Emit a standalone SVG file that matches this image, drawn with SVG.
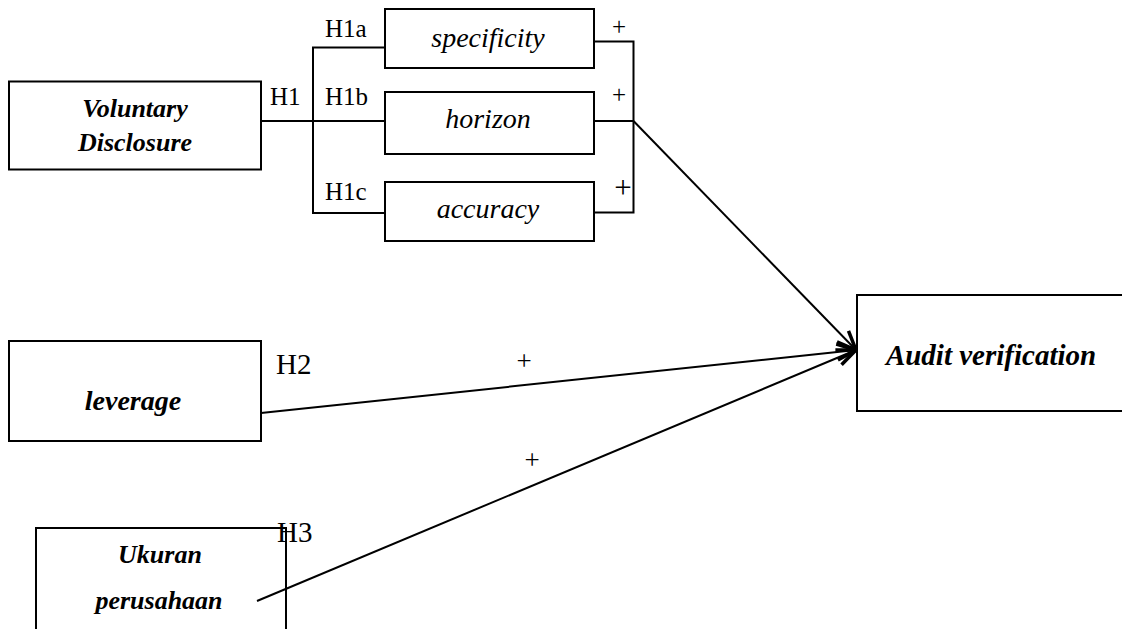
<svg xmlns="http://www.w3.org/2000/svg" width="1122" height="629" viewBox="0 0 1122 629">
<style>
.box{fill:none;stroke:#000;stroke-width:2}
.ln{fill:none;stroke:#000;stroke-width:2}
.t{font-family:"Liberation Serif","Times New Roman",serif;fill:#000}
.bi{font-family:"Liberation Serif","Times New Roman",serif;font-weight:bold;font-style:italic;text-anchor:middle;fill:#000}
.it{font-family:"Liberation Serif","Times New Roman",serif;font-style:italic;text-anchor:middle;fill:#000;font-size:28px}
</style>
<defs>
<marker id="arr" viewBox="0 0 22 20" refX="21" refY="10" markerWidth="22" markerHeight="20" markerUnits="userSpaceOnUse" orient="auto">
<path d="M2,2 L21,10 L2,18" fill="none" stroke="#000" stroke-width="3.5"/>
</marker>
</defs>
<rect width="1122" height="629" fill="#fff"/>
<g id="voluntary">
<rect class="box" x="9" y="81.5" width="252" height="88"/>
<text class="bi" x="135" y="117" font-size="26">Voluntary</text>
<text class="bi" x="135" y="151" font-size="26">Disclosure</text>
</g>
<g id="specificity">
<rect class="box" x="385" y="9" width="209" height="59"/>
<text class="it" x="488" y="47">specificity</text>
</g>
<g id="horizon">
<rect class="box" x="385" y="92" width="209" height="62"/>
<text class="it" x="488" y="128">horizon</text>
</g>
<g id="accuracy">
<rect class="box" x="385" y="182" width="209" height="59"/>
<text class="it" x="488" y="218">accuracy</text>
</g>
<g id="leverage">
<rect class="box" x="9" y="341" width="252" height="100"/>
<text class="bi" x="133" y="410" font-size="28">leverage</text>
</g>
<g id="ukuran">
<rect class="box" x="36" y="528" width="250" height="120"/>
<text class="bi" x="160" y="563" font-size="26">Ukuran</text>
<text class="bi" x="159" y="609" font-size="26">perusahaan</text>
</g>
<g id="audit">
<rect class="box" x="857" y="295" width="280" height="116"/>
<text class="bi" x="991" y="365" font-size="29">Audit verification</text>
</g>
<g id="connectors">
<path class="ln" d="M261,121 H385"/>
<path class="ln" d="M385,47.5 H313 V213 H385"/>
<path class="ln" d="M594,41.5 H633.5 V212.5 H594"/>
<path class="ln" d="M594,121 H633.5"/>
<line class="ln" x1="633.5" y1="121" x2="856" y2="350" marker-end="url(#arr)"/>
<line class="ln" x1="261" y1="413" x2="856" y2="350" marker-end="url(#arr)"/>
<line class="ln" x1="257" y1="601" x2="856" y2="350" marker-end="url(#arr)"/>
<text class="t" x="325" y="37" font-size="25">H1a</text>
<text class="t" x="325" y="105" font-size="25">H1b</text>
<text class="t" x="325" y="200" font-size="25">H1c</text>
<text class="t" x="270" y="105" font-size="25">H1</text>
<text class="t" x="276" y="374" font-size="29">H2</text>
<text class="t" x="277" y="542" font-size="29">H3</text>
<text class="t" x="619" y="35" font-size="25" text-anchor="middle">+</text>
<text class="t" x="619" y="103" font-size="25" text-anchor="middle">+</text>
<text class="t" x="623" y="198" font-size="31" text-anchor="middle">+</text>
<text class="t" x="524" y="370" font-size="27" text-anchor="middle">+</text>
<text class="t" x="532" y="469" font-size="27" text-anchor="middle">+</text>
</g>
</svg>
